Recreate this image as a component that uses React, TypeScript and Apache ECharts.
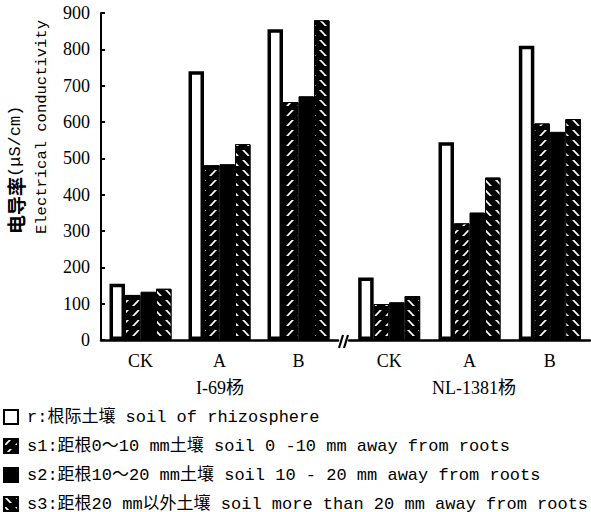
import React, { useEffect, useRef } from 'react';
import * as echarts from 'echarts';

const categories = ['CK', 'A', 'B'];
const groupNames = ['I-69杨', 'NL-1381杨'];
const seriesNames = [
  'r:根际土壤 soil of rhizosphere',
  's1:距根0～10 mm土壤 soil 0 -10 mm away from roots',
  's2:距根10～20 mm土壤 soil 10 - 20 mm away from roots',
  's3:距根20 mm以外土壤 soil more than 20 mm away from roots',
];
const yTitleCn = '电导率';
const yTitleUnit = '(μS/cm)';
const yTitleEn = 'Electrical conductivity';
const yMin = 0;
const yMax = 900;
const yInterval = 100;

// I-69杨
const r_I69 = [155, 740, 855];
const s1_I69 = [124, 481, 655];
const s2_I69 = [133, 484, 671];
const s3_I69 = [141, 539, 880];
// NL-1381杨
const r_NL = [172, 544, 810];
const s1_NL = [99, 321, 596];
const s2_NL = [104, 351, 573];
const s3_NL = [121, 447, 608];

const SERIF = '"Liberation Serif", "Noto Sans CJK SC", serif';
const MONO = '"Liberation Mono", "Noto Sans CJK SC", monospace';

const hatchFwd = 'path://M0,10L3,10L10,0L7,0Z';
const hatchBack = 'path://M0,0L3,0L10,10L7,10Z';

const styles = [
  { color: '#fff', borderColor: '#000', borderWidth: 3.5 },
  {
    color: '#000', borderColor: '#000', borderWidth: 1,
    decal: { symbol: hatchFwd, symbolSize: 1, symbolKeepAspect: false, color: '#fff', dashArrayX: [8, 3], dashArrayY: [6, 4], rotation: 0 },
  },
  { color: '#000', borderColor: '#000', borderWidth: 1 },
  {
    color: '#000', borderColor: '#000', borderWidth: 1,
    decal: { symbol: hatchBack, symbolSize: 1, symbolKeepAspect: false, color: '#fff', dashArrayX: [8, 3], dashArrayY: [6, 4], rotation: 0 },
  },
];

export default function App() {
  const ref = useRef<HTMLDivElement>(null);
  useEffect(() => {
    if (!ref.current) return;
    const chart = echarts.init(ref.current, null, { renderer: 'svg' });
    const groups = [
      [r_I69, s1_I69, s2_I69, s3_I69],
      [r_NL, s1_NL, s2_NL, s3_NL],
    ];
    const series: any[] = [];
    groups.forEach((g, gi) => {
      g.forEach((vals, si) => {
        series.push({
          type: 'bar',
          name: seriesNames[si],
          xAxisIndex: gi,
          yAxisIndex: gi,
          data: vals,
          barWidth: 15.5,
          barGap: '0%',
          itemStyle: styles[si],
          emphasis: { disabled: true },
        });
      });
    });
    const xAxisBase = {
      type: 'category',
      data: categories,
      axisLine: { lineStyle: { color: '#000', width: 2.5 } },
      axisTick: { show: false },
      axisLabel: { fontFamily: SERIF, fontSize: 18, color: '#000', margin: 12 },
    };
    const yAxisBase = {
      type: 'value',
      min: yMin,
      max: yMax,
      interval: yInterval,
      splitLine: { show: false },
    };
    chart.setOption({
      animation: false,
      grid: [
        { left: 101, right: 253, top: 13, bottom: 172 },
        { left: 349, right: 1, top: 13, bottom: 172 },
      ],
      xAxis: [
        { ...xAxisBase, gridIndex: 0 },
        { ...xAxisBase, gridIndex: 1 },
      ],
      yAxis: [
        {
          ...yAxisBase,
          gridIndex: 0,
          axisLine: { show: true, lineStyle: { color: '#000', width: 2 } },
          axisTick: { show: true, inside: true, length: 4, lineStyle: { color: '#000', width: 2 } },
          axisLabel: { fontFamily: SERIF, fontSize: 18, color: '#000', margin: 11 },
        },
        {
          ...yAxisBase,
          gridIndex: 1,
          show: false,
        },
      ],
      legend: {
        orient: 'vertical',
        left: 3,
        top: 408,
        height: 130,
        itemWidth: 14,
        itemHeight: 14,
        itemGap: 11,
        icon: 'rect',
        selectedMode: false,
        padding: 0,
        textStyle: { fontFamily: MONO, fontSize: 17, color: '#000', padding: [0, 0, 0, 4], lineHeight: 18 },
        data: seriesNames,
      },
      graphic: [
        {
          type: 'text',
          x: 15,
          y: 234,
          rotation: Math.PI / 2,
          style: {
            text: `{a|${yTitleCn}}{b|${yTitleUnit}}`,
            align: 'left',
            verticalAlign: 'middle',
            fill: '#000',
            rich: {
              a: { fontFamily: '"Noto Sans CJK SC"', fontWeight: 'bold', fontSize: 19, fill: '#000' },
              b: { fontFamily: MONO, fontSize: 17, fill: '#000' },
            },
          },
        },
        {
          type: 'text',
          x: 42,
          y: 234,
          rotation: Math.PI / 2,
          style: {
            text: yTitleEn,
            font: `15.5px ${MONO}`,
            align: 'left',
            verticalAlign: 'middle',
            fill: '#000',
          },
        },
        {
          type: 'text',
          x: 220,
          y: 388,
          style: { text: groupNames[0], font: `18px ${SERIF}`, align: 'center', verticalAlign: 'middle', fill: '#000' },
        },
        {
          type: 'text',
          x: 474,
          y: 388,
          style: { text: groupNames[1], font: `18px ${SERIF}`, align: 'center', verticalAlign: 'middle', fill: '#000' },
        },
        {
          type: 'line',
          shape: { x1: 339, y1: 348, x2: 343, y2: 335 },
          style: { stroke: '#000', lineWidth: 2.2 },
        },
        {
          type: 'line',
          shape: { x1: 344, y1: 348, x2: 348, y2: 335 },
          style: { stroke: '#000', lineWidth: 2.2 },
        },
      ],
      series,
    });
    return () => chart.dispose();
  }, []);
  return (
    <div
      ref={ref}
      style={{ position: 'fixed', left: 0, top: 0, width: 591, height: 512, background: '#fff' }}
    />
  );
}
